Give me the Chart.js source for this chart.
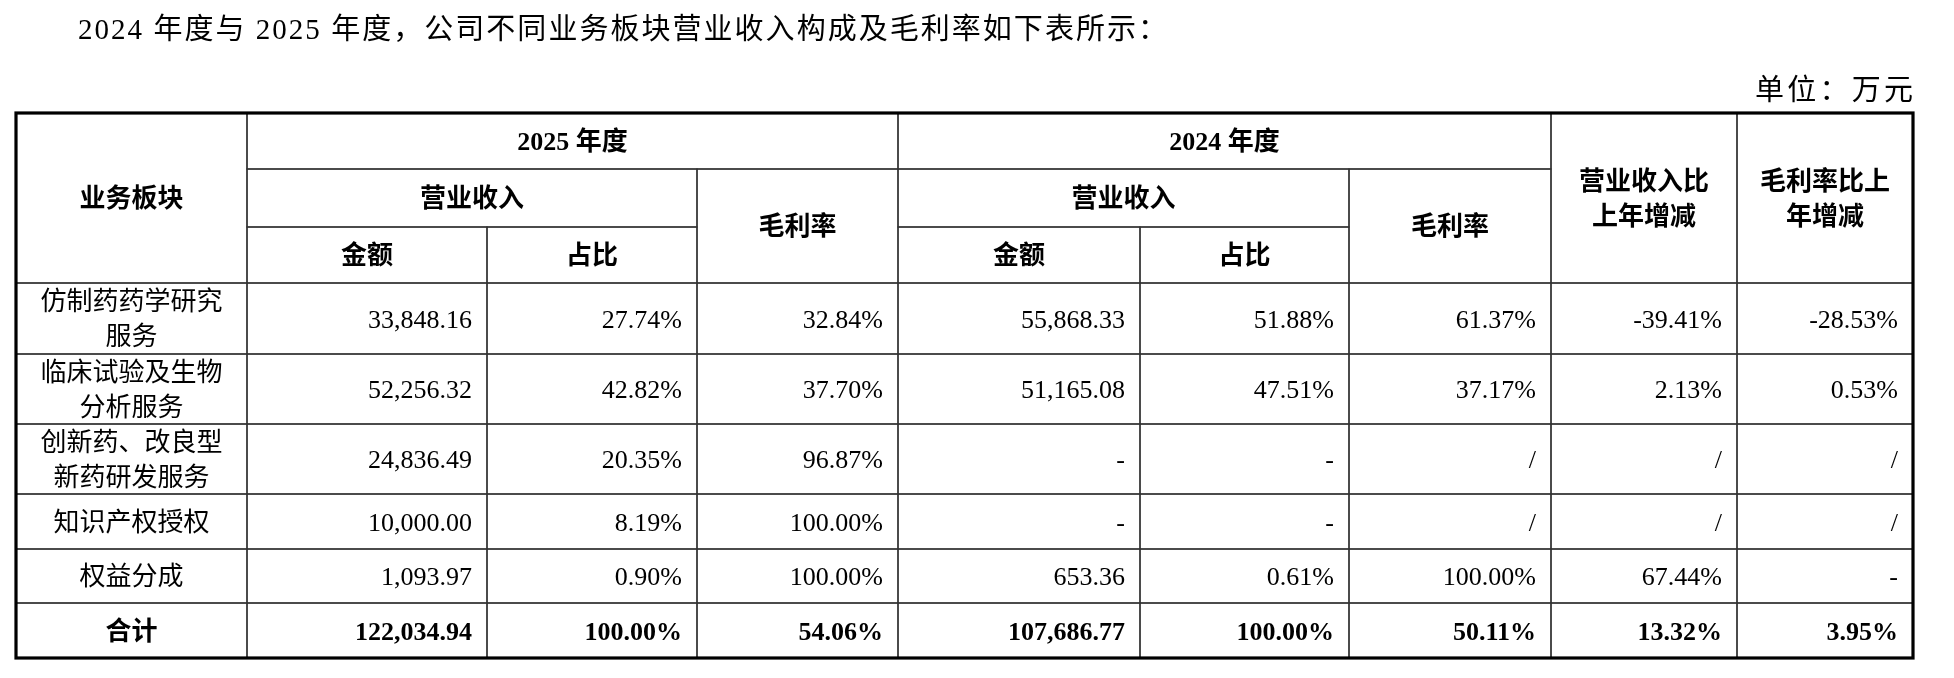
<!DOCTYPE html>
<html lang="zh-CN">
<head>
<meta charset="utf-8">
<title>营业收入构成及毛利率</title>
<script src="https://cdn.jsdelivr.net/npm/chart.js@4.4.1/dist/chart.umd.min.js"></script>
<style>
  html, body { margin: 0; padding: 0; background: #fff; }
  #wrap { width: 1954px; height: 678px; }
</style>
</head>
<body>
<div id="wrap"><canvas id="tableChart" width="1954" height="678"></canvas></div>
<script>
// 1. Dados da tabela (万元 / %)
const segments = ['仿制药药学研究服务', '临床试验及生物分析服务', '创新药、改良型新药研发服务', '知识产权授权', '权益分成', '合计'];
const revenue2025 = [33848.16, 52256.32, 24836.49, 10000.00, 1093.97, 122034.94];
const share2025 = [27.74, 42.82, 20.35, 8.19, 0.90, 100.00];
const margin2025 = [32.84, 37.70, 96.87, 100.00, 100.00, 54.06];
const revenue2024 = [55868.33, 51165.08, '-', '-', 653.36, 107686.77];
const share2024 = [51.88, 47.51, '-', '-', 0.61, 100.00];
const margin2024 = [61.37, 37.17, '/', '/', 100.00, 50.11];
const revenueChange = [-39.41, 2.13, '/', '/', 67.44, 13.32];
const marginChange = [-28.53, 0.53, '/', '/', '-', 3.95];

const titleText = '2024 年度与 2025 年度，公司不同业务板块营业收入构成及毛利率如下表所示：';
const unitText = '单位：万元';

// 2. Layout (unidades da escala = px do quadro)
const colEdges = [16, 247, 487, 697, 898, 1140, 1349, 1551, 1737, 1913];
const rowEdges = [113, 169, 227, 283, 354, 424, 494, 549, 603, 658];
const CELL_PAD = 15;
const LINE_GAP = 35;
const WRAP_AT = 7;
const FONT = "'Liberation Serif', 'Noto Sans CJK SC', serif";

const headerCells = [
    { c: [0, 1], r: [0, 3], lines: ['业务板块'] },
    { c: [1, 4], r: [0, 1], lines: ['2025 年度'] },
    { c: [1, 3], r: [1, 2], lines: ['营业收入'] },
    { c: [3, 4], r: [1, 3], lines: ['毛利率'] },
    { c: [1, 2], r: [2, 3], lines: ['金额'] },
    { c: [2, 3], r: [2, 3], lines: ['占比'] },
    { c: [4, 7], r: [0, 1], lines: ['2024 年度'] },
    { c: [4, 6], r: [1, 2], lines: ['营业收入'] },
    { c: [6, 7], r: [1, 3], lines: ['毛利率'] },
    { c: [4, 5], r: [2, 3], lines: ['金额'] },
    { c: [5, 6], r: [2, 3], lines: ['占比'] },
    { c: [7, 8], r: [0, 3], lines: ['营业收入比', '上年增减'] },
    { c: [8, 9], r: [0, 3], lines: ['毛利率比上', '年增减'] }
];

const fmtAmount = v => typeof v === 'number'
    ? v.toLocaleString('en-US', { minimumFractionDigits: 2, maximumFractionDigits: 2 }) : v;
const fmtPct = v => typeof v === 'number' ? v.toFixed(2) + '%' : v;

function wrapText(s) {
    const out = [];
    for (let i = 0; i < s.length; i += WRAP_AT) out.push(s.slice(i, i + WRAP_AT));
    return out;
}

const bodyRowCenter = r => (rowEdges[r + 3] + rowEdges[r + 4]) / 2;
const lastRow = segments.length - 1;

function column(values, c, fmt, align) {
    return {
        data: values.map((v, r) => ({
            x: align === 'center' ? (colEdges[c] + colEdges[c + 1]) / 2 : colEdges[c + 1] - CELL_PAD,
            y: bodyRowCenter(r)
        })),
        cellText: values.map(fmt),
        align: align,
        pointRadius: 0,
        pointHoverRadius: 0
    };
}

const datasets = [
    column(segments, 0, s => s, 'center'),
    column(revenue2025, 1, fmtAmount, 'right'),
    column(share2025, 2, fmtPct, 'right'),
    column(margin2025, 3, fmtPct, 'right'),
    column(revenue2024, 4, fmtAmount, 'right'),
    column(share2024, 5, fmtPct, 'right'),
    column(margin2024, 6, fmtPct, 'right'),
    column(revenueChange, 7, fmtPct, 'right'),
    column(marginChange, 8, fmtPct, 'right')
];

// texto com espaçamento para ocupar a largura (justificado)
function drawJustified(ctx, text, x0, x1, yMid) {
    const chars = Array.from(text);
    const natural = ctx.measureText(text).width;
    const gap = Math.max(0, (x1 - x0 - natural) / (chars.length - 1));
    let x = x0;
    chars.forEach(ch => {
        ctx.fillText(ch, x, yMid);
        x += ctx.measureText(ch).width + gap;
    });
}

function drawLines(ctx, lines, x, yMid, size) {
    const top = yMid - (lines.length - 1) * LINE_GAP / 2;
    lines.forEach((ln, i) => ctx.fillText(ln, x, top + i * LINE_GAP + size * 0.35));
}

const tablePlugin = {
    id: 'tableGrid',
    beforeDatasetsDraw(chart) {
        const ctx = chart.ctx;
        const sx = v => chart.scales.x.getPixelForValue(v);
        const sy = v => chart.scales.y.getPixelForValue(v);
        ctx.save();
        ctx.fillStyle = '#000';

        // título e unidade
        ctx.font = '29px ' + FONT;
        ctx.textBaseline = 'middle';
        ctx.textAlign = 'left';
        drawJustified(ctx, titleText, sx(78), sx(1167), sy(31));
        drawJustified(ctx, unitText, sx(1755), sx(1913), sy(92));

        // grade
        ctx.strokeStyle = '#333';
        ctx.lineWidth = 1.3;
        const cellRect = (c0, c1, r0, r1) =>
            ctx.strokeRect(sx(colEdges[c0]), sy(rowEdges[r0]), sx(colEdges[c1]) - sx(colEdges[c0]), sy(rowEdges[r1]) - sy(rowEdges[r0]));
        headerCells.forEach(h => cellRect(h.c[0], h.c[1], h.r[0], h.r[1]));
        for (let r = 3; r < rowEdges.length - 1; r++) {
            for (let c = 0; c < colEdges.length - 1; c++) cellRect(c, c + 1, r, r + 1);
        }
        ctx.strokeStyle = '#000';
        ctx.lineWidth = 3.2;
        cellRect(0, colEdges.length - 1, 0, rowEdges.length - 1);

        // cabeçalho
        ctx.font = 'bold 26px ' + FONT;
        ctx.textAlign = 'center';
        ctx.textBaseline = 'alphabetic';
        headerCells.forEach(h => {
            const cx = (sx(colEdges[h.c[0]]) + sx(colEdges[h.c[1]])) / 2;
            const cy = (sy(rowEdges[h.r[0]]) + sy(rowEdges[h.r[1]])) / 2;
            drawLines(ctx, h.lines, cx, cy, 26);
        });
        ctx.restore();
    },
    afterDatasetsDraw(chart) {
        const ctx = chart.ctx;
        ctx.save();
        ctx.fillStyle = '#000';
        ctx.textBaseline = 'alphabetic';
        chart.data.datasets.forEach((ds, i) => {
            const meta = chart.getDatasetMeta(i);
            ctx.textAlign = ds.align;
            meta.data.forEach((pt, r) => {
                ctx.font = (r === lastRow ? 'bold ' : '') + '26px ' + FONT;
                const txt = ds.cellText[r];
                const lines = ds.align === 'center' && r !== lastRow ? wrapText(txt) : [txt];
                drawLines(ctx, lines, pt.x, pt.y, 26);
            });
        });
        ctx.restore();
    }
};

// 3. Gráfico (Chart.js)
const ctx = document.getElementById('tableChart').getContext('2d');
new Chart(ctx, {
    type: 'scatter',
    data: { datasets: datasets },
    options: {
        responsive: false,
        animation: false,
        layout: { padding: 0 },
        events: [],
        plugins: { legend: { display: false }, tooltip: { enabled: false } },
        scales: {
            x: { type: 'linear', min: 0, max: 1954, display: false },
            y: { type: 'linear', min: 0, max: 678, reverse: true, display: false }
        }
    },
    plugins: [tablePlugin]
});
</script>
</body>
</html>
